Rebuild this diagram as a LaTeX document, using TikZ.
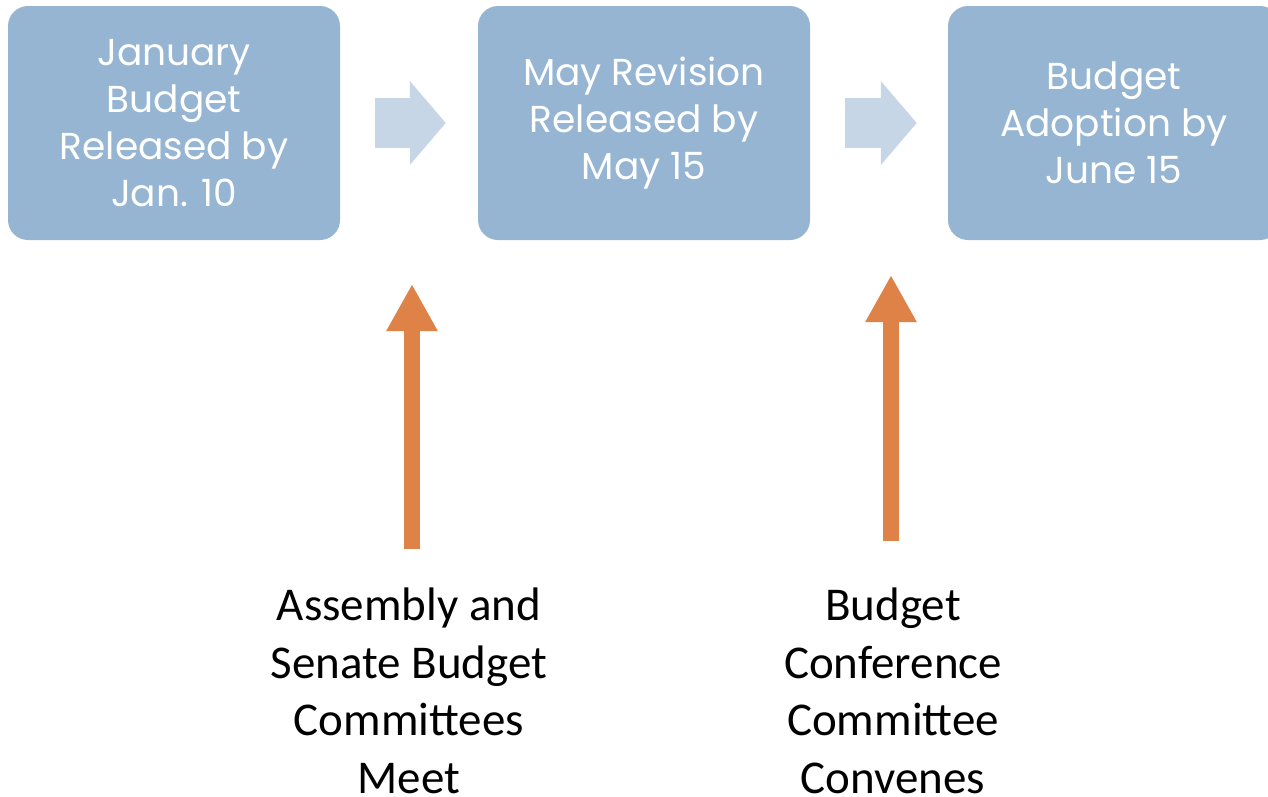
\documentclass[tikz,border=0pt]{standalone}
\usepackage{fontspec}
\setmainfont{Carlito}
\newfontfamily\boxfont{Poppins}
\usetikzlibrary{positioning,arrows.meta}

\definecolor{stepblue}{HTML}{95B5D3}
\definecolor{chevblue}{HTML}{C6D6E6}
\definecolor{actorange}{HTML}{DF8248}

\tikzset{
    stagebox/.style={fill=stepblue, rounded corners=20pt, minimum width=332pt,
        minimum height=234pt, align=center, text=white,
        font=\boxfont\fontsize{37.5}{47}\selectfont},
    chevron/.style={draw=chevblue, line width=50pt,
        -{Triangle[width=82pt,length=36pt]}},
    actarrow/.style={draw=actorange, line width=16pt,
        -{Triangle[width=48pt,length=47pt]}},
    actlabel/.style={align=center, inner sep=0pt,
        font=\fontsize{47}{57.5}\selectfont}
}

\begin{document}
\begin{tikzpicture}[x=1pt,y=-1pt]
    \useasboundingbox (0,0) rectangle (1268,796);

    % the three stages
    \node[stagebox] (jan)   at (174,123)  {January\\Budget\\Released by\\Jan. 10};
    \node[stagebox] (may)   at (644,123)  {May Revision\\Released by\\May 15};
    \node[stagebox] (june)  at (1114,123) {Budget\\Adoption by\\June 15};

    % chevrons between stages
    \coordinate (c1s) at ([xshift=35pt]jan.east);
    \coordinate (c1e) at ([xshift=-32pt]may.west);
    \coordinate (c2s) at ([xshift=35pt]may.east);
    \coordinate (c2e) at ([xshift=-31pt]june.west);
    \draw[chevron] (c1s) -- (c1e);
    \draw[chevron] (c2s) -- (c2e);

    % the committees
    \node[actlabel] (cmte) at (409,691) {Assembly and\\Senate Budget\\Committees\\Meet};
    \node[actlabel] (conf) at (893,691) {Budget\\Conference\\Committee\\Convenes};

    \coordinate (a1s) at (412,549);
    \coordinate (a1e) at (412,284);
    \coordinate (a2s) at (891,541);
    \coordinate (a2e) at (891,275);
    \draw[actarrow] (a1s) -- (a1e);
    \draw[actarrow] (a2s) -- (a2e);
\end{tikzpicture}
\end{document}
